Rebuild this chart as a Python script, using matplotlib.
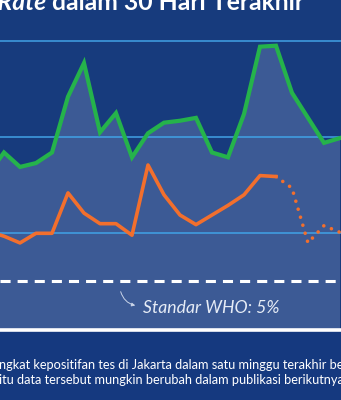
import numpy as np
import matplotlib.pyplot as plt

# day numbers (only the last part of the 30 days is visible in the crop)
days = np.arange(8, 31)
# positivity rate, Indonesia (%) - green
rate_id = [16.1, 18.4, 16.9, 17.3, 18.4, 24.2, 27.7, 20.5, 22.5, 17.9, 20.4, 21.5,
           21.7, 22.0, 18.4, 17.9, 22.4, 29.4, 29.5, 24.6, 22.0, 19.4, 19.9]
# positivity rate, Jakarta (%) - orange; last days not final yet
rate_jkt = [10.2, 9.7, 9.0, 10.0, 10.0, 14.2, 12.1, 11.0, 11.0, 9.8, 17.1, 14.0,
            11.9, 10.9, 11.9, 12.9, 14.0, 16.0, 15.9, 14.7, 9.0, 10.8, 10.1]
n_final = 19  # points up to day 26 are final
grid_levels = [10, 20, 30]
who_level = 5

title_it = "Positivity Rate"
title_rest = "dalam 30 Hari Terakhir"
who_label = "Standar WHO: 5%"
note_lines = ["ngkat kepositifan tes di Jakarta dalam satu minggu terakhir belum final.",
              "itu data tersebut mungkin berubah dalam publikasi berikutnya."]

navy = "#173b7d"
fill_c = "#3c5a95"
green = "#25b34b"
orange = "#f26f2d"
grid_c = "#41a2e6"

W, H = 341, 400
fig = plt.figure(figsize=(W / 100, H / 100), dpi=100)
fig.patch.set_facecolor(navy)
ax = fig.add_axes([0, 0, 1, 1])
ax.set_facecolor(navy)

# pixel mapping: day 8 at x=-12, 16 px per day; 0% at y=329.5, 9.62 px per %
px_day, x0 = 16.0, -12.0
ax.set_xlim(8 + (0 - x0) / px_day, 8 + (W - x0) / px_day)
ax.set_ylim((329.5 - H) / 9.62, 329.5 / 9.62)
ax.axis("off")

ax.fill_between(days, rate_id, 0, color=fill_c, lw=0, zorder=1)
for g in grid_levels:
    ax.axhline(g, color=grid_c, lw=1.1, zorder=2)
ax.axhline(who_level, color="white", lw=2.2, ls=(0, (3.3, 2.3)), zorder=2)

ax.plot(days, rate_id, color=green, lw=3.0, solid_joinstyle="miter", zorder=4)
ax.plot(days[:n_final], rate_jkt[:n_final], color=orange, lw=2.6, zorder=4)
ax.plot(days[n_final - 1:], rate_jkt[n_final - 1:], color=orange, lw=2.6,
        ls=(0, (0.01, 2.3)), dash_capstyle="round", zorder=4)

# footer
ax.axhspan(ax.get_ylim()[0], 0, color="#15397f", lw=0, zorder=5)
ax.axhline(0, color="white", lw=2.6, zorder=6)


def px(x, y):
    return x / W, 1 - y / H


fig.text(*px(52, 10), title_rest, color="white", fontsize=17.8, fontweight="bold",
         family="Lato", va="baseline", ha="left")
fig.text(*px(46, 10), title_it, color="white", fontsize=17.8, fontweight="bold",
         style="italic", family="Lato", va="baseline", ha="right")

fig.text(*px(143, 313), who_label, color="#e6ecf6", fontsize=12.7, style="italic",
         family="Lato", va="baseline", ha="left")
ax.annotate("", xy=(8 + (138 - x0) / px_day, (329.5 - 306) / 9.62),
            xytext=(8 + (120 - x0) / px_day, (329.5 - 289) / 9.62),
            arrowprops=dict(arrowstyle="-|>", color="#c9d4e8", lw=0.7,
                            mutation_scale=5, connectionstyle="arc3,rad=0.35"),
            zorder=6)

for i, line in enumerate(note_lines):
    fig.text(*px(-1, 369 + 15 * i), line, color="white", fontsize=9.2,
             family="Lato", va="baseline", ha="left")

fig.savefig("out.png", dpi=100, facecolor=navy)
